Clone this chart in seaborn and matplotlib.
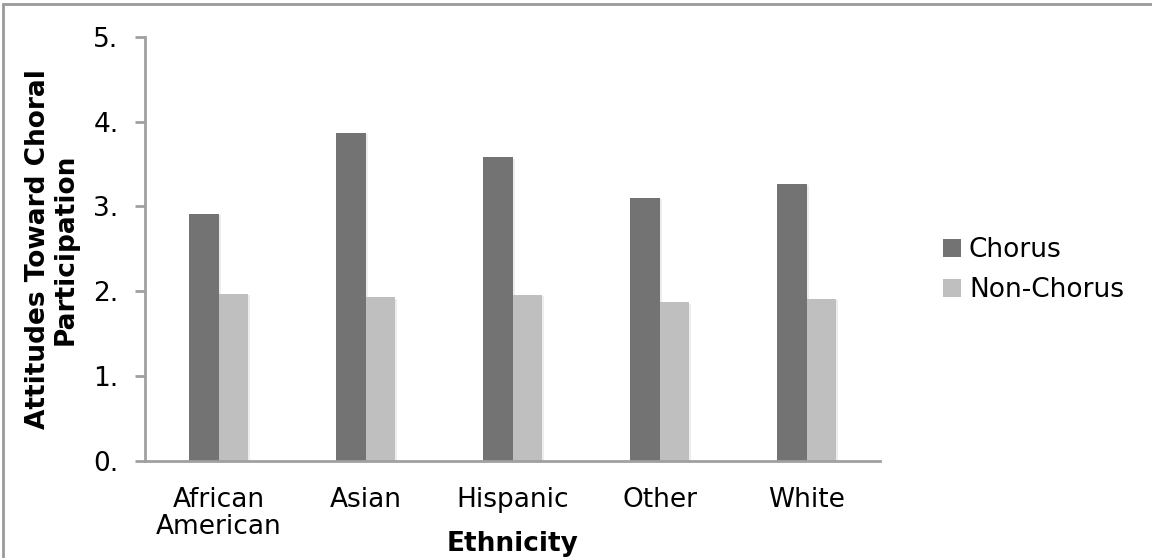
import matplotlib
matplotlib.use("Agg")
import matplotlib.pyplot as plt
import matplotlib.patheffects as pe
from matplotlib.lines import Line2D
from matplotlib.patches import Patch
import seaborn as sns
import pandas as pd

# Mean attitude scores by ethnicity and group
ethnicities = ["African\nAmerican", "Asian", "Hispanic", "Other", "White"]
chorus = [2.91, 3.87, 3.58, 3.10, 3.27]
non_chorus = [1.97, 1.93, 1.96, 1.87, 1.91]
groups = ["Chorus", "Non-Chorus"]
y_ticks = [0, 1, 2, 3, 4, 5]
y_tick_labels = ["0.", "1.", "2.", "3.", "4.", "5."]

colors = {"Chorus": "#737373", "Non-Chorus": "#BFBFBF"}

df = pd.DataFrame({
    "Ethnicity": ethnicities * 2,
    "Group": [groups[0]] * len(chorus) + [groups[1]] * len(non_chorus),
    "Score": chorus + non_chorus,
})

sns.set_theme(style="white")
plt.rcParams["font.family"] = ["DejaVu Sans"]
plt.rcParams["text.color"] = "black"
plt.rcParams["axes.labelcolor"] = "black"
plt.rcParams["xtick.color"] = "black"
plt.rcParams["ytick.color"] = "black"

FS = 19

fig = plt.figure(figsize=(11.52, 5.58), dpi=100)
ax = fig.add_axes([0.1259, 0.1738, 0.6380, 0.7604])

sns.barplot(data=df, x="Ethnicity", y="Score", hue="Group", order=ethnicities,
            hue_order=groups, palette=colors, width=0.4, gap=0,
            saturation=1, linewidth=0, ax=ax, legend=False)

# faint drop shadow on the bars
for bar in ax.patches:
    bar.set_path_effects([pe.SimplePatchShadow(offset=(1.5, -1), shadow_rgbFace="#000000", alpha=0.07),
                          pe.Normal()])

ax.set_ylim(0, 5)
ax.set_xlim(-0.5, len(ethnicities) - 0.5)
ax.set_yticks(y_ticks)
ax.set_yticklabels(y_tick_labels)

for side in ["top", "right"]:
    ax.spines[side].set_visible(False)
for side in ["left", "bottom"]:
    ax.spines[side].set_color("#A0A0A0")
    ax.spines[side].set_linewidth(2)

ax.tick_params(axis="y", which="major", direction="out", length=7, width=2,
               color="#A0A0A0", labelcolor="black", labelsize=FS, pad=12, left=True)
ax.tick_params(axis="x", length=0, labelsize=FS, labelcolor="black", pad=19)
for lbl in ax.get_xticklabels():
    lbl.set_linespacing(1.05)

ax.set_xlabel("Ethnicity", fontsize=FS, fontweight="bold", color="black")
ax.xaxis.label.set_va("center")
ax.xaxis.set_label_coords(0.5, -0.196)

ax.set_ylabel("Attitudes Toward Choral\nParticipation", fontsize=FS,
              fontweight="bold", linespacing=1.1, color="black")
ax.yaxis.label.set_va("center")
ax.yaxis.set_label_coords(-0.1265, 0.5)

handles = [Patch(facecolor=colors[g], edgecolor="none") for g in groups]
fig.legend(handles, groups, loc="center left", bbox_to_anchor=(0.8186, 0.516),
           frameon=False, fontsize=FS, handlelength=0.68, handleheight=0.68,
           handletextpad=0.3, labelspacing=0.55, borderaxespad=0, borderpad=0)

# chart border (top and left edges)
fig.add_artist(Line2D([0.003, 0.003], [0, 0.993], transform=fig.transFigure,
                      color="#9A9A9A", linewidth=2))
fig.add_artist(Line2D([0.003, 1], [0.993, 0.993], transform=fig.transFigure,
                      color="#9A9A9A", linewidth=2))

fig.savefig("out.png", dpi=100)
